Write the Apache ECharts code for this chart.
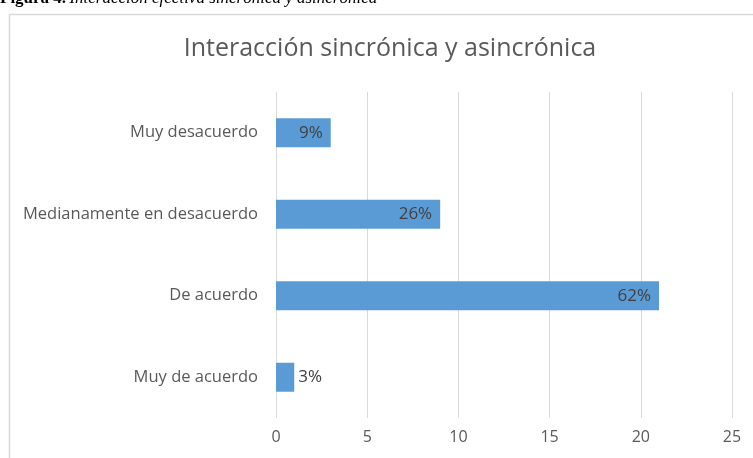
<!DOCTYPE html>
<html>
<head>
<meta charset="utf-8">
<script src="https://cdn.jsdelivr.net/npm/echarts@6/dist/echarts.min.js"></script>
<style>
html, body { margin: 0; padding: 0; background: #fff; }
#chart { width: 753px; height: 458px; }
</style>
</head>
<body>
<div id="chart"></div>
<script>
var categories = ["Muy desacuerdo", "Medianamente en desacuerdo", "De acuerdo", "Muy de acuerdo"];
var counts = [3, 9, 21, 1];
var percents = ["9%", "26%", "62%", "3%"];
var xTicks = [0, 5, 10, 15, 20, 25];

var chart = echarts.init(document.getElementById("chart"));

var barData = counts.map(function (v, i) {
	var item = { value: v };
	// la barra pequeña lleva la etiqueta fuera
	if (v < 2) {
		item.label = { position: "right", distance: 4 };
	}
	return item;
});

chart.setOption({
	animation: false,
	title: {
		text: "Interacción sincrónica y asincrónica",
		left: 385,
		top: 31,
		textAlign: "center",
		textStyle: {
			fontFamily: "Open Sans",
			fontSize: 25,
			fontWeight: "normal",
			color: "#595959",
		},
	},
	graphic: [
		{
			type: "rect",
			shape: { x: 9.5, y: 14.5, width: 800, height: 500 },
			style: { fill: "none", stroke: "#d9d9d9", lineWidth: 1.5 },
			z: -1,
		},
		{
			type: "text",
			left: 0,
			top: -10,
			style: {
				rich: {
					b: { fontFamily: "Liberation Serif", fontSize: 17, fontWeight: "bold", fill: "#000" },
					i: { fontFamily: "Liberation Serif", fontSize: 17, fontStyle: "italic", fill: "#000" },
				},
				text: "{b|Figura 4.} {i|Interacción efectiva sincrónica y asincrónica}",
			},
		},
	],
	grid: {
		left: 276,
		right: 21,
		top: 92,
		bottom: 40,
		containLabel: false,
	},
	xAxis: {
		type: "value",
		min: xTicks[0],
		max: xTicks[xTicks.length - 1],
		interval: 5,
		axisLine: { show: false },
		axisTick: { show: false },
		splitLine: { lineStyle: { color: "#d9d9d9", width: 1 } },
		axisLabel: {
			margin: 11,
			fontFamily: "Open Sans",
			fontSize: 16,
			color: "#595959",
		},
	},
	yAxis: {
		type: "category",
		data: categories,
		inverse: true,
		axisLine: { show: false },
		axisTick: { show: false },
		axisLabel: {
			margin: 18,
			fontFamily: "Open Sans",
			fontSize: 16.5,
			color: "#595959",
		},
	},
	series: [
		{
			type: "bar",
			data: barData,
			barWidth: 29,
			itemStyle: { color: "#5b9bd5" },
			label: {
				show: true,
				position: "insideRight",
				distance: 8,
				fontFamily: "Open Sans",
				fontSize: 17,
				color: "#404040",
				formatter: function (p) {
					return percents[p.dataIndex];
				},
			},
		},
	],
});
</script>
</body>
</html>
